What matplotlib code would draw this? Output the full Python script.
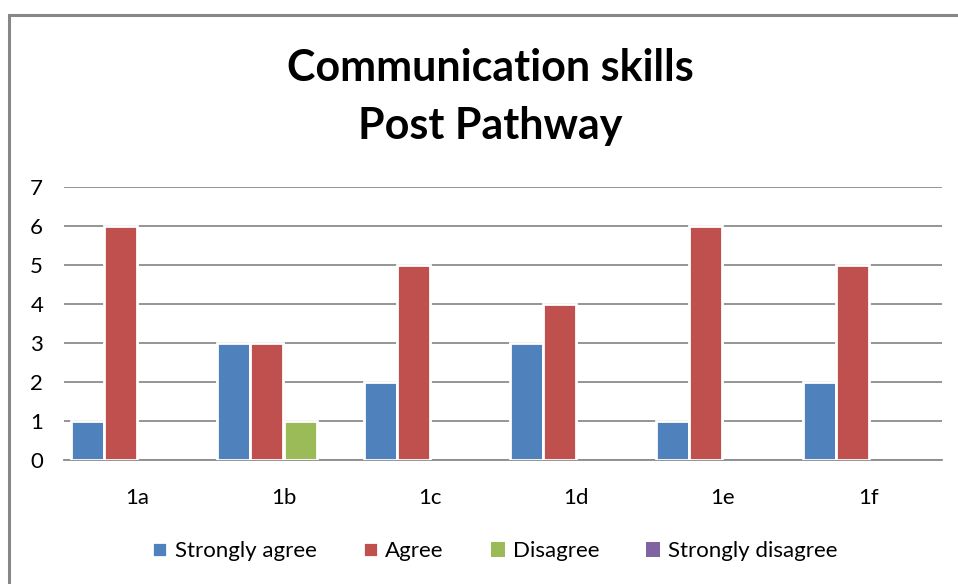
import numpy as np
import matplotlib
matplotlib.use('Agg')
import matplotlib.pyplot as plt
from matplotlib.patches import Rectangle

plt.rcParams['font.family'] = ['Lato', 'DejaVu Sans']

categories = ['1a', '1b', '1c', '1d', '1e', '1f']
series_names = ['Strongly agree', 'Agree', 'Disagree', 'Strongly disagree']
strongly_agree = [1, 3, 2, 3, 1, 2]
agree = [6, 3, 5, 4, 6, 5]
disagree = [0, 1, 0, 0, 0, 0]
strongly_disagree = [0, 0, 0, 0, 0, 0]

colors = ['#4F81BD', '#C0504D', '#9BBB59', '#8064A2']
grid_color = '#8C8C8C'

W, H = 958, 584
fig = plt.figure(figsize=(W / 100, H / 100), dpi=100)
ax = fig.add_axes([64 / W, (H - 460) / H, (942 - 64) / W, (460 - 187) / H])

x = np.arange(len(categories))
slot = 0.226
all_series = [strongly_agree, agree, disagree, strongly_disagree]
for i, (name, vals) in enumerate(zip(series_names, all_series)):
    # no white outline on empty bars, it would cut the axis line
    lw = [2 if v > 0 else 0 for v in vals]
    ax.bar(x + (i - 1.5) * slot, vals, width=slot, color=colors[i],
           edgecolor='white', linewidth=lw, label=name, zorder=3)

ax.set_xlim(-0.5, len(categories) - 0.5)
ax.set_ylim(0, 7)
ax.set_yticks(range(0, 8))
ax.set_xticks(x)
ax.set_xticklabels(categories)
ax.yaxis.grid(True, color=grid_color, linewidth=1.3, zorder=0)
for s in ['top', 'right', 'left']:
    ax.spines[s].set_visible(False)
ax.spines['bottom'].set_color(grid_color)
ax.spines['bottom'].set_linewidth(1.3)
ax.tick_params(axis='both', length=0, labelsize=16, colors='#000000')
ax.tick_params(axis='x', pad=20)
ax.tick_params(axis='y', pad=15)

fig.text(490 / W, (H - 68) / H, 'Communication skills', ha='center', va='center',
         fontsize=31, fontweight='bold')
fig.text(490 / W, (H - 126) / H, 'Post Pathway', ha='center', va='center',
         fontsize=31, fontweight='bold')

fig.legend(loc='center', bbox_to_anchor=(495 / W, (H - 551) / H), ncol=4,
           frameon=False, fontsize=16, handlelength=0.65, handleheight=0.65,
           handletextpad=0.35, columnspacing=2.1)

fig.patches.append(Rectangle((9 / W, -0.1), 1.2, (H - 15) / H + 0.1,
                             transform=fig.transFigure, fill=False,
                             edgecolor='#878787', linewidth=2.2))

fig.savefig('out.png', dpi=100)
